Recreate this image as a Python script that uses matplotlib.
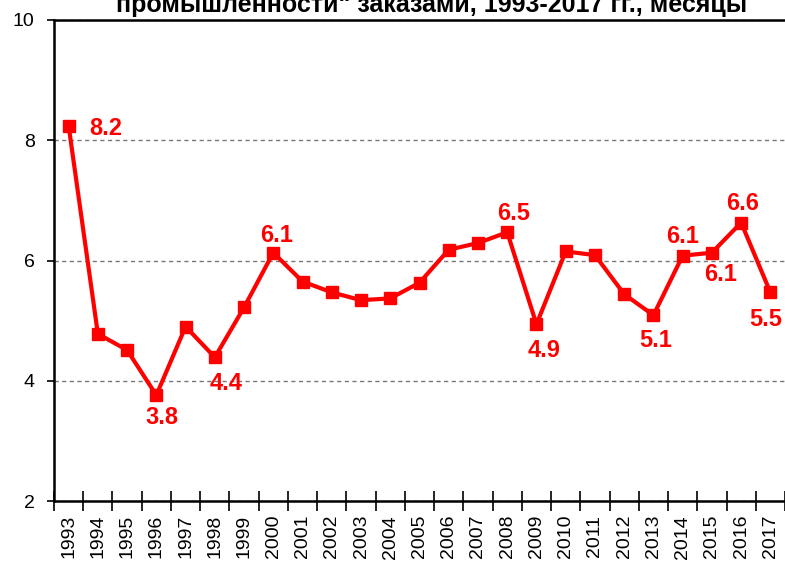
import matplotlib.pyplot as plt
import numpy as np

years = [str(y) for y in range(1993, 2018)]
values = [8.24, 4.78, 4.51, 3.76, 4.90, 4.39, 5.22, 6.13, 5.65, 5.47, 5.34, 5.37,
          5.63, 6.18, 6.29, 6.47, 4.94, 6.15, 6.09, 5.44, 5.09, 6.08, 6.13, 6.63, 5.47]

# labelled points: year, text
label_years = [1993, 1996, 1998, 2000, 2008, 2009, 2013, 2014, 2015, 2016, 2017]
label_texts = ["8.2", "3.8", "4.4", "6.1", "6.5", "4.9", "5.1", "6.1", "6.1", "6.6", "5.5"]
# offsets of label centres from the point, in pixels (x right, y up)
label_offsets = [(37, -3), (6, -22), (11, -26), (3, 17), (6, 19), (8, -26),
                 (2, -25), (0, 19), (9, -22), (1, 19), (-5, -27)]

plt.rcParams["font.family"] = ["Liberation Sans", "DejaVu Sans"]

fig = plt.figure(figsize=(7.85, 5.63), dpi=100)
ax = fig.add_axes([54 / 785, 62 / 563, 731 / 785, 481 / 563])

x = np.arange(len(years))
red = "#FF0000"
ax.plot(x, values, color=red, linewidth=3, marker="s", markersize=9, zorder=3)

for yr, txt, (dx, dy) in zip(label_years, label_texts, label_offsets):
    i = yr - 1993
    ax.annotate(txt, (x[i], values[i]), xytext=(dx, dy), textcoords="offset pixels",
                ha="center", va="center", color=red, fontsize=17, fontweight="bold",
                zorder=4)

ax.set_xlim(-0.5, len(years) - 0.5)
ax.set_ylim(2, 10)
ax.set_yticks([2, 4, 6, 8, 10])
ax.set_xticks(x)
ax.set_xticklabels(years, rotation=90, fontsize=14)
ax.set_xticks(np.arange(-0.5, len(years)), minor=True)
ax.tick_params(axis="x", which="major", length=0, pad=10)
ax.tick_params(axis="x", which="minor", direction="inout", length=14, width=1.2)
ax.tick_params(axis="y", which="major", direction="out", length=5, width=1.2,
               labelsize=14, pad=9)

ax.grid(axis="y", linestyle=(0, (3, 2.5)), color="#777777", linewidth=1)
ax.spines["right"].set_visible(False)
for s in ["left", "bottom", "top"]:
    ax.spines[s].set_linewidth(1.8)
    ax.spines[s].set_color("black")

# title: only its lower part is visible at the top edge, as in the source image
fig.text(432 / 785, (563 - 12) / 563, 'промышленности" заказами, 1993-2017 гг., месяцы',
         ha="center", va="baseline", fontsize=18, fontweight="bold")

plt.savefig("out.png", dpi=100)
